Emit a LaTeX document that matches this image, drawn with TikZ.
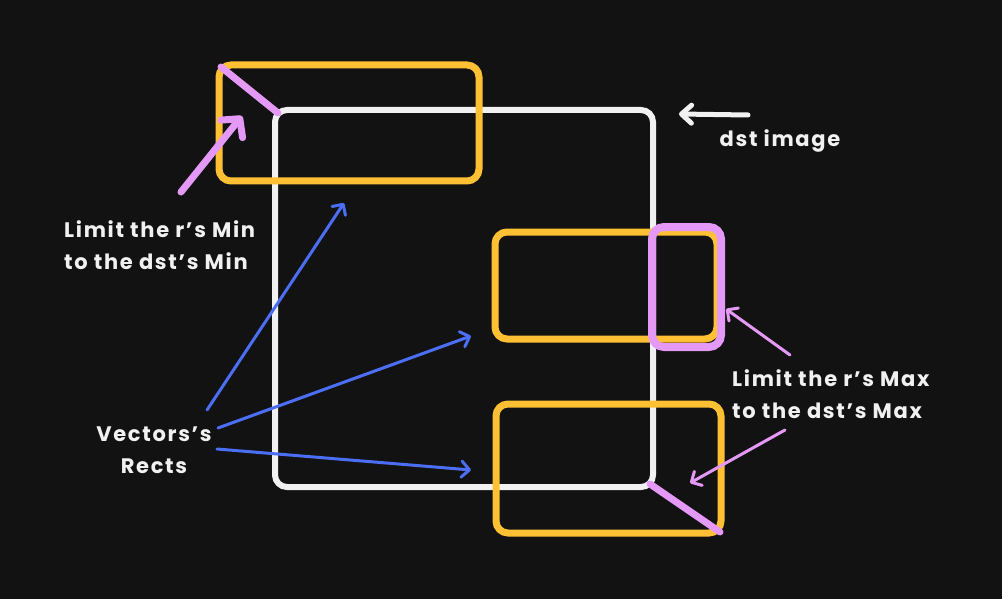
\documentclass[tikz,border=0pt]{standalone}
\usepackage{fontspec}
\setmainfont{Poppins}[LetterSpace=8]
\usetikzlibrary{arrows.meta}
\definecolor{bg}{HTML}{121212}
\definecolor{wline}{HTML}{F1F1F1}
\definecolor{ylw}{HTML}{FFC034}
\definecolor{pnk}{HTML}{E599F7}
\definecolor{blu}{HTML}{4C6EF5}
\begin{document}
\begin{tikzpicture}[x=1pt,y=-1pt,
  rbox/.style={draw, rounded corners=12pt, inner sep=0pt, outer sep=0pt},
  dstbox/.style={rbox, draw=wline, line width=6pt},
  ybox/.style={rbox, draw=ylw, line width=7pt},
  pbox/.style={rbox, draw=pnk, line width=8pt},
  pline/.style={draw=pnk, line width=7pt, line cap=round},
  lbl/.style={text=wline, font=\bfseries\fontsize{21}{32}\selectfont, inner sep=0pt},
  blarrow/.style={draw=blu, line width=3pt, line cap=round, -{Straight Barb[length=8pt,width=16pt,round]}},
  pkarrow/.style={draw=pnk, line width=3pt, line cap=round, -{Straight Barb[length=8pt,width=16pt,round]}},
  bigpk/.style={draw=pnk, line width=7pt, line cap=round, -{Straight Barb[length=13pt,width=28pt,round]}},
  warrow/.style={draw=wline, line width=5pt, line cap=round, -{Straight Barb[length=10pt,width=18pt,round]}}]
\fill[bg] (0,0) rectangle (1002,599);
\useasboundingbox (0,0) rectangle (1002,599);

\node[dstbox, minimum width=378pt, minimum height=377pt] (dst) at (464,298.5) {};
\node[ybox, minimum width=260pt, minimum height=116pt] (ytop) at (349,123) {};
\node[ybox, minimum width=222pt, minimum height=107pt] (ymid) at (606,285.5) {};
\node[ybox, minimum width=225pt, minimum height=129pt] (ybot) at (608.5,468.5) {};
\node[pbox, minimum width=69pt, minimum height=120pt] (pmax) at (686.5,287) {};

\draw[pline] ([shift={(2,2)}]ytop.north west) -- ([shift={(3,3)}]dst.north west);
\draw[pline] ([shift={(-3,-3)}]dst.south east) -- ([shift={(-1,-1)}]ybot.south east);

\node[lbl, anchor=base] (dstlbl) at (780,147) {dst image};
\node[lbl, anchor=west, align=left] (minlbl) at (64,245) {Limit the r's Min\\to the dst's Min};
\node[lbl, anchor=west, align=left] (maxlbl) at (732,394) {Limit the r's Max\\to the dst's Max};
\node[lbl, align=center] (vec) at (154,450) {Vectors's\\Rects};

\coordinate (wt) at (748,115);
\coordinate (wh) at (679,114);
\draw[warrow] (wt) -- (wh);

\coordinate (mint) at (181,192);
\coordinate (minh) at (242,116);
\draw[bigpk] (mint) -- (minh);

\coordinate (mx1t) at (790,355);
\coordinate (mx1h) at (726,309);
\draw[pkarrow] (mx1t) -- (mx1h);
\coordinate (mx2t) at (785,430);
\coordinate (mx2h) at (690,483);
\draw[pkarrow] (mx2t) -- (mx2h);

\coordinate (b1t) at (207,410);
\coordinate (b1h) at (344,203);
\draw[blarrow] (b1t) -- (b1h);
\coordinate (b2t) at (218,428);
\coordinate (b2h) at (471,336);
\draw[blarrow] (b2t) -- (b2h);
\coordinate (b3t) at (217,449);
\coordinate (b3h) at (471,470);
\draw[blarrow] (b3t) -- (b3h);
\end{tikzpicture}
\end{document}
